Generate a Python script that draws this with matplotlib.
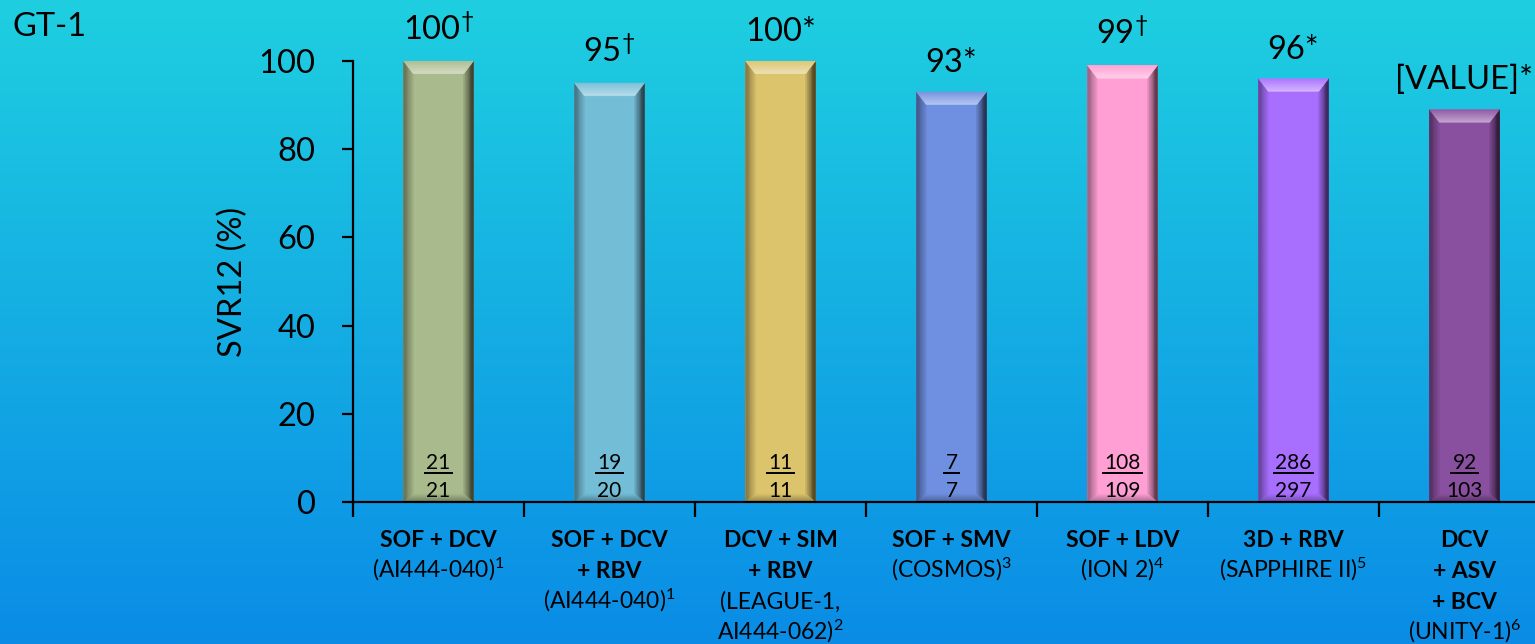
import numpy as np
import matplotlib
matplotlib.use("Agg")
import matplotlib.pyplot as plt
from matplotlib.patches import Polygon
from matplotlib.lines import Line2D
from matplotlib.colors import to_rgb

# ---- data ----
categories_bold = [
    ["SOF + DCV"],
    ["SOF + DCV", "+ RBV"],
    ["DCV + SIM", "+ RBV"],
    ["SOF + SMV"],
    ["SOF + LDV"],
    ["3D + RBV"],
    ["DCV", "+ ASV", "+ BCV"],
]
categories_study = [
    ["(AI444-040)$^{1}$"],
    ["(AI444-040)$^{1}$"],
    ["(LEAGUE-1,", "AI444-062)$^{2}$"],
    ["(COSMOS)$^{3}$"],
    ["(ION 2)$^{4}$"],
    ["(SAPPHIRE II)$^{5}$"],
    ["(UNITY-1)$^{6}$"],
]
svr12 = [100, 95, 100, 93, 99, 96, 89]
value_text = ["100", "95", "100", "93", "99", "96", "[VALUE]"]
value_marks = ["dagger", "dagger", "*", "*", "dagger", "*", "*"]
responders = [21, 19, 11, 7, 108, 286, 92]
patients = [21, 20, 11, 7, 109, 297, 103]
bar_colors = ["#a9bb8c", "#74bdd6", "#dcc46c", "#6f8fe0", "#ff9fd4", "#a86fff", "#8a50a0"]
yticks = [0, 20, 40, 60, 80, 100]

FONT = "Lato"
plt.rcParams["font.family"] = [FONT, "DejaVu Sans"]
plt.rcParams["mathtext.fontset"] = "custom"
plt.rcParams["mathtext.rm"] = FONT
plt.rcParams["mathtext.it"] = FONT
plt.rcParams["mathtext.bf"] = FONT + ":bold"

DPI = 100
W, H = 1535, 644
fig = plt.figure(figsize=(W / DPI, H / DPI), dpi=DPI)

# background gradient
bg = fig.add_axes([0, 0, 1, 1], zorder=-10)
top_c = np.array(to_rgb("#1fcfe0"))
bot_c = np.array(to_rgb("#0a8ce6"))
t = np.linspace(0, 1, 256)[:, None]
grad = (top_c[None, :] * (1 - t) + bot_c[None, :] * t)[:, None, :]
bg.imshow(grad, aspect="auto", extent=[0, 1, 0, 1], origin="upper")
bg.set_axis_off()

# main axes
x0_px, x1_px = 353, 1550
y0_px, y1_px = 502, 61
ax = fig.add_axes([x0_px / W, 1 - y0_px / H, (x1_px - x0_px) / W, (y0_px - y1_px) / H])
ax.patch.set_alpha(0)
n = len(svr12)
ax.set_xlim(-0.5, n - 0.5)
ax.set_ylim(0, 100)

for s in ["top", "right"]:
    ax.spines[s].set_visible(False)
for s in ["left", "bottom"]:
    ax.spines[s].set_linewidth(1.6)
    ax.spines[s].set_color("black")
    ax.spines[s].set_zorder(5)

ax.set_yticks(yticks)
ax.set_yticklabels([str(v) for v in yticks])
ax.tick_params(axis="y", length=8, width=1.6, pad=19, labelsize=23.5)
ax.set_xticks(np.arange(-0.5, n, 1.0))
ax.set_xticklabels([])
ax.tick_params(axis="x", length=11, width=1.6)


def mix(c, other, f):
    c = np.array(to_rgb(c))
    o = np.array(to_rgb(other))
    return tuple(c * (1 - f) + o * f)


def shaded_quad(P0, P1, Q0, Q1, c_out, c_in, steps=8, z=3):
    P0, P1, Q0, Q1 = map(np.array, (P0, P1, Q0, Q1))
    c_out = np.array(c_out)
    c_in = np.array(c_in)
    for k in range(steps):
        a, b = k / steps, (k + 1) / steps
        pts = [P0 + (Q0 - P0) * a, P1 + (Q1 - P1) * a,
               P1 + (Q1 - P1) * b, P0 + (Q0 - P0) * b]
        col = c_out + (c_in - c_out) * ((k + 0.5) / steps)
        ax.add_patch(Polygon(pts, closed=True, facecolor=col, edgecolor=col,
                             linewidth=0.3, zorder=z))


# bars with bevelled edges
bw = 0.41
bars = ax.bar(range(n), svr12, width=bw, color=bar_colors, zorder=2, linewidth=0)
bev_x = 0.058
bev_top = 2.9
bev_bot = 1.8
for rect, col in zip(bars, bar_colors):
    xa = rect.get_x()
    xb = xa + rect.get_width()
    v = rect.get_height()
    # left
    shaded_quad((xa, 0), (xa, v), (xa + bev_x, bev_bot), (xa + bev_x, v - bev_top),
                mix(col, "black", 0.45), mix(col, "black", 0.05))
    # right
    shaded_quad((xb, 0), (xb, v), (xb - bev_x, bev_bot), (xb - bev_x, v - bev_top),
                mix(col, "black", 0.78), mix(col, "black", 0.08))
    # top
    shaded_quad((xa, v), (xb, v), (xa + bev_x, v - bev_top), (xb - bev_x, v - bev_top),
                mix(col, "white", 0.05), mix(col, "white", 0.5))
    # bottom
    shaded_quad((xa, 0), (xb, 0), (xa + bev_x, bev_bot), (xb - bev_x, bev_bot),
                mix(col, "black", 0.35), mix(col, "black", 0.02))

# value labels above bars
for i, (v, txt, mk) in enumerate(zip(svr12, value_text, value_marks)):
    label = txt + (r"$^{\dagger}$" if mk == "dagger" else "*")
    ax.annotate(label, xy=(i, v), xytext=(0, 14.5), textcoords="offset points",
                ha="center", va="baseline", fontsize=23.5, zorder=6)

# responders / patients inside bars
num_texts = []
for i, (r, p) in enumerate(zip(responders, patients)):
    tn = ax.annotate(str(r), xy=(i, 0), xycoords=("data", "axes fraction"),
                     xytext=(0, 33 * 72 / DPI), textcoords="offset points",
                     ha="center", va="baseline", fontsize=15, zorder=6)
    ax.annotate(str(p), xy=(i, 0), xycoords=("data", "axes fraction"),
                xytext=(0, 5 * 72 / DPI), textcoords="offset points",
                ha="center", va="baseline", fontsize=15, zorder=6)
    num_texts.append(tn)

# category labels below the axis
line_gap = 31
first_base = 45
for i, (bold_lines, study_lines) in enumerate(zip(categories_bold, categories_study)):
    k = 0
    for ln in bold_lines:
        ax.annotate(ln, xy=(i, 0), xycoords=("data", "axes fraction"),
                    xytext=(0, -(first_base + line_gap * k) * 72 / DPI),
                    textcoords="offset points", ha="center", va="baseline",
                    fontsize=16.5, fontweight="bold", annotation_clip=False)
        k += 1
    for ln in study_lines:
        ax.annotate(ln, xy=(i, 0), xycoords=("data", "axes fraction"),
                    xytext=(0, -(first_base + line_gap * k) * 72 / DPI),
                    textcoords="offset points", ha="center", va="baseline",
                    fontsize=16.5, annotation_clip=False)
        k += 1

fig.text(233 / W, 1 - 282 / H, "SVR12 (%)", rotation=90, ha="center", va="center",
         fontsize=23.5)
fig.text(12 / W, 1 - 36 / H, "GT-1", ha="left", va="baseline", fontsize=23.5)

# underline the responder counts
fig.canvas.draw()
renderer = fig.canvas.get_renderer()
for tn in num_texts:
    bb = tn.get_window_extent(renderer)
    cx = (bb.x0 + bb.x1) / 2
    half = bb.width / 2 + 1
    fig.add_artist(Line2D([(cx - half) / W, (cx + half) / W],
                          [(H - 472.5) / H, (H - 472.5) / H],
                          transform=fig.transFigure, color="black", linewidth=1.4,
                          zorder=7))

fig.savefig("out.png", dpi=DPI)
